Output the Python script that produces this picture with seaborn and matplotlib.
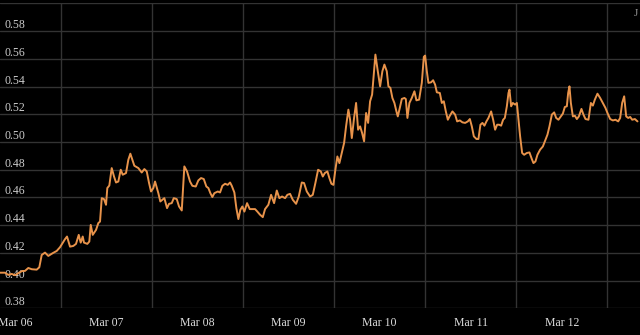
import numpy as np
import pandas as pd
import matplotlib
matplotlib.use("Agg")
import matplotlib.pyplot as plt
import matplotlib.dates as mdates
import seaborn as sns

# hours since Mar 06 00:00 and price values
hours = [-4.06, -2.74, -1.87, -0.98, -0.11, 0.76, 1.66, 2.53, 3.40, 4.30, 5.61, 6.30, 6.93, 7.80, 8.67,
         9.83, 10.89, 11.76, 13.07, 13.60, 14.39, 15.26, 15.97, 16.69, 17.21, 17.74, 18.08, 18.95, 19.48,
         19.85, 20.38, 21.25, 21.85, 22.30, 22.75, 23.35, 23.88, 24.22, 24.75, 25.38, 25.99, 26.52, 27.12,
         27.76, 28.28, 29.15, 29.76, 30.29, 30.81, 31.34, 32.40, 33.29, 33.98, 34.61, 35.22, 35.74, 36.35,
         36.80, 37.67, 38.19, 38.72, 39.25, 39.96, 40.49, 41.20, 41.73, 42.52, 43.12, 43.84, 44.52, 45.23,
         46.02, 46.63, 47.53, 48.21, 48.92, 49.64, 50.32, 50.85, 51.38, 51.90, 52.43, 53.33, 53.93, 54.54,
         55.25, 55.96, 56.57, 57.02, 57.70, 58.23, 58.76, 59.28, 59.81, 60.34, 61.05, 61.76, 63.16, 63.76,
         64.48, 65.19, 65.79, 66.66, 67.38, 68.17, 68.88, 69.56, 70.27, 71.07, 71.67, 72.38, 73.10, 73.97,
         74.68, 75.47, 76.07, 76.79, 77.66, 78.37, 79.05, 79.77, 80.48, 81.01, 81.53, 82.22, 82.74, 83.27,
         83.80, 84.32, 84.85, 85.38, 86.01, 86.62, 87.14, 87.75, 88.20, 88.65, 89.25, 89.78, 90.31, 90.84,
         91.37, 91.89, 92.42, 92.95, 93.47, 94.00, 94.53, 94.87, 95.50, 96.11, 96.71, 97.24, 97.87, 98.30,
         98.82, 99.35, 99.88, 100.41, 100.77, 101.30, 101.83, 102.51, 102.88, 103.31, 103.83, 104.46,
         105.15, 105.68, 106.39, 107.10, 107.63, 107.97, 108.42, 108.84, 109.55, 110.08, 110.61, 111.06,
         111.85, 112.38, 112.90, 113.43, 113.96, 114.49, 115.17, 115.88, 116.41, 117.12, 117.81, 118.52,
         119.23, 119.76, 120.28, 120.81, 121.50, 122.02, 122.55, 123.08, 123.60, 124.13, 124.66, 125.37,
         125.90, 126.42, 126.95, 127.48, 128.00, 128.53, 128.98, 129.51, 129.94, 130.20, 130.64, 131.09,
         131.70, 132.15, 132.57, 133.01, 133.54, 134.07, 134.78, 135.46, 136.10, 136.52, 137.05, 137.57,
         138.28, 139.00, 139.68, 140.21, 140.74, 141.37, 141.98, 142.50, 143.11, 143.74, 144.27, 144.79,
         145.32, 145.67, 146.01, 146.38, 146.91, 147.43, 147.96, 148.49, 149.17, 149.70, 150.23, 151.02,
         151.65, 152.18, 152.70, 153.39, 154.10, 154.81, 155.50, 156.02, 156.74, 157.45, 158.13, 158.85,
         159.37, 159.90, 160.43, 160.96, 161.49, 162.01, 162.54, 163.25, 163.94]

values = [0.4057, 0.4057, 0.4041, 0.4048, 0.4039, 0.4053, 0.4068, 0.4070, 0.4091, 0.4082, 0.4079, 0.4096,
          0.4185, 0.4202, 0.4178, 0.4198, 0.4214, 0.4241, 0.4299, 0.4318, 0.4245, 0.4250, 0.4265, 0.4330,
          0.4274, 0.4318, 0.4274, 0.4265, 0.4282, 0.4402, 0.4330, 0.4366, 0.4415, 0.4426, 0.4595, 0.4588,
          0.4547, 0.4668, 0.4686, 0.4812, 0.4751, 0.4708, 0.4715, 0.4800, 0.4764, 0.4776, 0.4872, 0.4916,
          0.4872, 0.4829, 0.4812, 0.4780, 0.4805, 0.4788, 0.4704, 0.4643, 0.4668, 0.4715, 0.4631, 0.4571,
          0.4583, 0.4595, 0.4523, 0.4554, 0.4559, 0.4595, 0.4588, 0.4535, 0.4506, 0.4824, 0.4788, 0.4715,
          0.4684, 0.4679, 0.4723, 0.4740, 0.4733, 0.4679, 0.4668, 0.4631, 0.4603, 0.4631, 0.4643, 0.4636,
          0.4684, 0.4699, 0.4691, 0.4708, 0.4684, 0.4636, 0.4523, 0.4444, 0.4511, 0.4535, 0.4498, 0.4559,
          0.4516, 0.4516, 0.4498, 0.4475, 0.4458, 0.4516, 0.4547, 0.4619, 0.4559, 0.4650, 0.4595, 0.4607,
          0.4595, 0.4619, 0.4626, 0.4583, 0.4554, 0.4607, 0.4708, 0.4704, 0.4643, 0.4607, 0.4619, 0.4704,
          0.4800, 0.4788, 0.4751, 0.4776, 0.4788, 0.4740, 0.4699, 0.4691, 0.4800, 0.4896, 0.4848, 0.4921,
          0.4993, 0.5113, 0.5234, 0.5161, 0.5029, 0.5174, 0.5282, 0.5089, 0.5113, 0.5065, 0.5005, 0.5210,
          0.5138, 0.5294, 0.5342, 0.5523, 0.5631, 0.5511, 0.5402, 0.5511, 0.5559, 0.5511, 0.5402, 0.5391,
          0.5318, 0.5282, 0.5221, 0.5185, 0.5246, 0.5311, 0.5318, 0.5311, 0.5174, 0.5282, 0.5318, 0.5366,
          0.5301, 0.5306, 0.5427, 0.5615, 0.5624, 0.5511, 0.5427, 0.5431, 0.5446, 0.5414, 0.5359, 0.5354,
          0.5282, 0.5294, 0.5221, 0.5161, 0.5190, 0.5221, 0.5198, 0.5149, 0.5156, 0.5142, 0.5138, 0.5149,
          0.5166, 0.5113, 0.5041, 0.5022, 0.5022, 0.5125, 0.5138, 0.5118, 0.5149, 0.5174, 0.5221, 0.5161,
          0.5089, 0.5125, 0.5125, 0.5118, 0.5161, 0.5174, 0.5258, 0.5354, 0.5378, 0.5258, 0.5282, 0.5270,
          0.5282, 0.5161, 0.5041, 0.4921, 0.4908, 0.4921, 0.4925, 0.4877, 0.4848, 0.4860, 0.4908, 0.4945,
          0.4968, 0.5017, 0.5053, 0.5113, 0.5198, 0.5214, 0.5174, 0.5161, 0.5185, 0.5205, 0.5253, 0.5258,
          0.5354, 0.5402, 0.5282, 0.5185, 0.5190, 0.5166, 0.5185, 0.5239, 0.5198, 0.5166, 0.5161, 0.5282,
          0.5263, 0.5306, 0.5349, 0.5318, 0.5282, 0.5246, 0.5210, 0.5166, 0.5156, 0.5161, 0.5149, 0.5174,
          0.5282, 0.5330, 0.5185, 0.5174, 0.5181, 0.5161, 0.5166, 0.5149]

y_ticks = [0.38, 0.40, 0.42, 0.44, 0.46, 0.48, 0.50, 0.52, 0.54, 0.56, 0.58, 0.60]
y_tick_labels = ["0.38", "0.40", "0.42", "0.44", "0.46", "0.48", "0.50", "0.52", "0.54", "0.56", "0.58", ""]

base = pd.Timestamp("2024-03-06 00:00")
df = pd.DataFrame({"time": base + pd.to_timedelta(hours, unit="h"), "value": values})

sns.set_theme(style="dark")
plt.rcParams["font.family"] = ["Liberation Serif", "DejaVu Serif"]

fig = plt.figure(figsize=(6.4, 3.35), dpi=100, facecolor="black")
ax = fig.add_axes([0.0, 0.0797, 1.0, 0.9099])
ax.set_facecolor("black")

sns.lineplot(data=df, x="time", y="value", color="#e8934b", linewidth=1.4, ax=ax)

ax.set_xlim(base + pd.Timedelta(hours=-4.06), base + pd.Timedelta(hours=164.6))
ax.set_ylim(0.38, 0.60)

ax.xaxis.set_major_locator(mdates.DayLocator())
ax.xaxis.set_major_formatter(mdates.DateFormatter("%b %d"))
ax.xaxis.set_minor_locator(mdates.HourLocator(byhour=12))
ax.set_yticks(y_ticks)
ax.set_yticklabels(y_tick_labels)

ax.grid(False)
ax.grid(which="minor", axis="x", color="#333333", linewidth=1.0)
ax.grid(which="major", axis="y", color="#333333", linewidth=1.0)
ax.set_axisbelow(True)

ax.tick_params(axis="x", which="both", length=0, pad=6, labelsize=8.5, colors="#dddddd")
ax.tick_params(axis="y", which="both", length=0, pad=-3, labelsize=8.5, colors="#cccccc")
for lab in ax.get_yticklabels():
    lab.set_horizontalalignment("left")
    lab.set_verticalalignment("bottom")

for s in ax.spines.values():
    s.set_visible(False)

ax.set_xlabel("")
ax.set_ylabel("")

fig.text(634 / 640, 1 - 13 / 335, "J", color="#999999", fontsize=8, ha="left", va="center")

fig.savefig("out.png", dpi=100, facecolor="black")
